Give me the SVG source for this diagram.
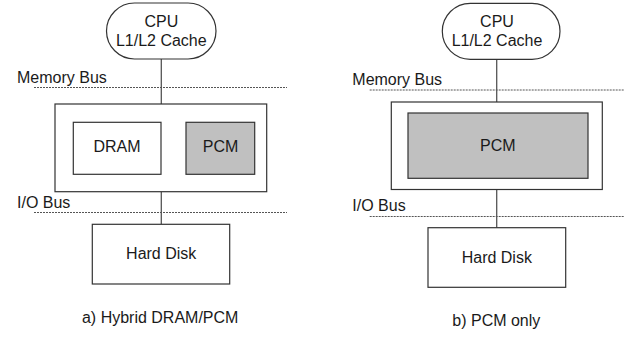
<svg xmlns="http://www.w3.org/2000/svg" width="626" height="337" viewBox="0 0 626 337">
<style>
text{font-family:"Liberation Sans",Arial,sans-serif;font-size:16px;fill:#1a1a1a}
.c{text-anchor:middle}
.box{fill:#fff;stroke:#333;stroke-width:1.2}
.pcm{fill:#c0c0c0;stroke:#333;stroke-width:1.2}
.bus{stroke:#555;stroke-width:1;stroke-dasharray:2 1;fill:none}
.wire{stroke:#555;stroke-width:1.3;fill:none}
</style>
<rect width="626" height="337" fill="#fff"/>
<g id="connectors">
<line class="wire" x1="161.3" y1="59" x2="161.3" y2="104"/>
<line class="wire" x1="161" y1="147.7" x2="186" y2="147.7"/>
<line class="wire" x1="161.3" y1="191.7" x2="161.3" y2="224.3"/>
<line class="wire" x1="496.7" y1="59" x2="496.7" y2="102"/>
<line class="wire" x1="496.7" y1="189.5" x2="496.7" y2="227.7"/>
</g>
<g id="bus-lines">
<text x="17" y="83">Memory Bus</text>
<line class="bus" x1="34" y1="87.5" x2="287" y2="87.5"/>
<text x="17" y="207.5">I/O Bus</text>
<line class="bus" x1="34" y1="212.5" x2="287" y2="212.5"/>
<text x="352.3" y="84.5">Memory Bus</text>
<line class="bus" x1="369.7" y1="90" x2="624" y2="90"/>
<text x="352.3" y="210.7">I/O Bus</text>
<line class="bus" x1="369.7" y1="216.5" x2="624" y2="216.5"/>
</g>
<g id="cpu-a">
<rect class="box" x="106.5" y="3" width="109.5" height="56" rx="28" ry="28"/>
<text class="c" x="161.3" y="26.5">CPU</text>
<text class="c" x="161.3" y="46">L1/L2 Cache</text>
</g>
<g id="memory-a">
<rect class="box" x="55" y="104" width="211.7" height="87.7"/>
</g>
<g id="dram-a">
<rect class="box" x="73.3" y="122.3" width="87.7" height="52"/>
<text class="c" x="117" y="152.3">DRAM</text>
</g>
<g id="pcm-a">
<rect class="pcm" x="186" y="122.3" width="68.7" height="52"/>
<text class="c" x="220.5" y="152.3">PCM</text>
</g>
<g id="disk-a">
<rect class="box" x="92.3" y="224.3" width="137.4" height="59.7"/>
<text class="c" x="161.2" y="259.3">Hard Disk</text>
</g>
<text id="caption-a" class="c" x="160.2" y="322.7">a) Hybrid DRAM/PCM</text>
<g id="cpu-b">
<rect class="box" x="442.3" y="3.3" width="117.7" height="56" rx="28" ry="28"/>
<text class="c" x="497" y="26.5">CPU</text>
<text class="c" x="497" y="46">L1/L2 Cache</text>
</g>
<g id="memory-b">
<rect class="box" x="391.3" y="102" width="211" height="87.5"/>
</g>
<g id="pcm-b">
<rect class="pcm" x="408" y="113" width="180" height="65.3"/>
<text class="c" x="497.8" y="151">PCM</text>
</g>
<g id="disk-b">
<rect class="box" x="428" y="227.7" width="137.7" height="59.6"/>
<text class="c" x="496.8" y="262.7">Hard Disk</text>
</g>
<text id="caption-b" class="c" x="496.3" y="326">b) PCM only</text>
</svg>
